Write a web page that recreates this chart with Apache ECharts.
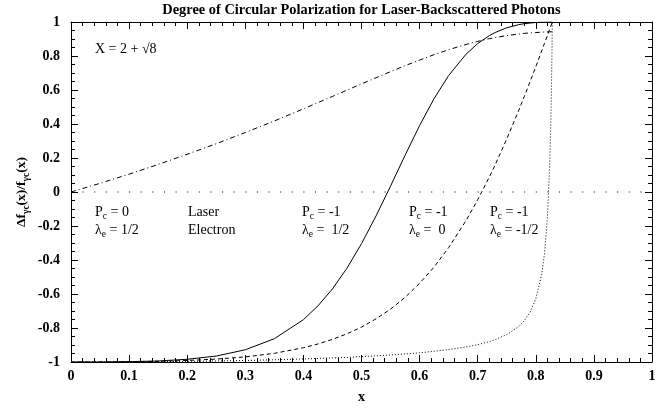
<!DOCTYPE html>
<html><head><meta charset="utf-8">
<script src="https://cdn.jsdelivr.net/npm/echarts@6/dist/echarts.min.js"></script>
<style>html,body{margin:0;padding:0;background:#fff}#c{width:672px;height:409px}</style>
</head><body><div id="c"></div>
<script>
// x positions (photon energy fraction x = omega/E0)
const xs = [0, 0.05, 0.1, 0.15, 0.2, 0.25, 0.3, 0.35, 0.4, 0.425, 0.45, 0.475, 0.5, 0.525, 0.55, 0.575, 0.6, 0.625, 0.65, 0.68, 0.7, 0.72, 0.73, 0.75, 0.77, 0.78, 0.79, 0.8, 0.81, 0.815, 0.82, 0.824, 0.826, 0.827, 0.828, 0.8284];
// Pc = 0, lambda_e = 1/2  (dash-dot)
const pc0_le_half = [0, 0.051, 0.105, 0.162, 0.222, 0.284, 0.350, 0.418, 0.489, 0.526, 0.562, 0.599, 0.636, 0.672, 0.708, 0.743, 0.776, 0.808, 0.837, 0.868, 0.886, 0.902, 0.908, 0.920, 0.929, 0.933, 0.936, 0.938, 0.940, 0.941, 0.942, 0.942, 0.943, 0.943, 0.943, 0.943];
// Pc = -1, lambda_e = 1/2  (solid)
const pcm1_le_half = [-1, -1.000, -0.998, -0.994, -0.984, -0.965, -0.928, -0.863, -0.751, -0.670, -0.570, -0.448, -0.304, -0.141, 0.035, 0.216, 0.391, 0.550, 0.685, 0.811, 0.873, 0.920, 0.938, 0.966, 0.984, 0.990, 0.994, 0.997, 0.999, 0.999, 1.0, 1.0, 1.0, 1.0, 1.0, 1.0];
// Pc = -1, lambda_e = 0  (dashed)
const pcm1_le_zero = [-1, -1.000, -0.999, -0.996, -0.991, -0.983, -0.970, -0.949, -0.916, -0.894, -0.867, -0.834, -0.795, -0.746, -0.689, -0.620, -0.537, -0.441, -0.327, -0.168, -0.046, 0.088, 0.159, 0.312, 0.475, 0.560, 0.648, 0.737, 0.829, 0.875, 0.921, 0.959, 0.977, 0.987, 0.996, 1.0];
// Pc = -1, lambda_e = -1/2  (dotted)
const pcm1_le_mhalf = [-1, -1.000, -0.999, -0.998, -0.996, -0.994, -0.991, -0.987, -0.982, -0.979, -0.976, -0.973, -0.968, -0.964, -0.959, -0.953, -0.946, -0.937, -0.927, -0.911, -0.898, -0.880, -0.869, -0.839, -0.793, -0.758, -0.707, -0.629, -0.487, -0.362, -0.150, 0.164, 0.433, 0.622, 0.869, 1.0];
// zero reference line
const zeroX = [0, 1];
const zeroY = [0, 0];

const FONT = '"Liberation Serif", "Times New Roman", serif';
const pairs = (x, y) => x.map((v, i) => [v, y[i]]);

const subRich = {
  s: { fontFamily: FONT, fontSize: 9.5, padding: [9, 0, 0, 0], fill: '#000' },
  sb: { fontFamily: FONT, fontSize: 9.5, fontWeight: 'bold', padding: [9, 0, 0, 0], fill: '#000' }
};

function axisBase(extra) {
  return Object.assign({
    type: 'value',
    axisLine: { show: true, onZero: false, lineStyle: { color: '#000', width: 1 } },
    axisTick: { show: true, inside: true, length: 7, lineStyle: { color: '#000', width: 1 } },
    minorTick: { show: true, length: 4, lineStyle: { color: '#000', width: 1 } },
    splitLine: { show: false },
    minorSplitLine: { show: false }
  }, extra);
}
const labelStyle = { show: true, color: '#000', fontFamily: FONT, fontWeight: 'bold', fontSize: 14 };

function line(data, type, z) {
  return {
    type: 'line', data: data, showSymbol: false, z: z || 2,
    lineStyle: { color: '#000', width: 1, type: type }
  };
}
const option = {
  animation: false,
  grid: { left: 71, right: 20, top: 22, bottom: 46, containLabel: false },
  xAxis: [
    axisBase({ min: 0, max: 1, interval: 0.1, position: 'bottom',
      minorTick: { show: true, splitNumber: 5, length: 4, lineStyle: { color: '#000', width: 1 } },
      axisLabel: Object.assign({ margin: 7 }, labelStyle),
      name: 'x', nameLocation: 'middle', nameGap: 28,
      nameTextStyle: { color: '#000', fontFamily: FONT, fontWeight: 'bold', fontSize: 14 } }),
    axisBase({ min: 0, max: 1, interval: 0.1, position: 'top',
      minorTick: { show: true, splitNumber: 5, length: 4, lineStyle: { color: '#000', width: 1 } },
      axisLabel: { show: false } })
  ],
  yAxis: [
    axisBase({ min: -1, max: 1, interval: 0.2, position: 'left',
      minorTick: { show: true, splitNumber: 4, length: 4, lineStyle: { color: '#000', width: 1 } },
      axisLabel: Object.assign({ margin: 11 }, labelStyle) }),
    axisBase({ min: -1, max: 1, interval: 0.2, position: 'right',
      minorTick: { show: true, splitNumber: 4, length: 4, lineStyle: { color: '#000', width: 1 } },
      axisLabel: { show: false } })
  ],
  series: [
    line(pairs(zeroX, zeroY), [1, 10.62], 1),
    line(pairs(xs, pc0_le_half), [5, 3, 1, 3]),
    line(pairs(xs, pcm1_le_half), 'solid'),
    line(pairs(xs, pcm1_le_zero), [4, 3]),
    line(pairs(xs, pcm1_le_mhalf), [1, 2])
  ],
  graphic: [
    { type: 'text', x: 361.5, y: 10, style: { text: 'Degree of Circular Polarization for Laser-Backscattered Photons',
      fill: '#000', font: 'bold 14.4px ' + FONT, textAlign: 'center', textVerticalAlign: 'middle' } },
    { type: 'text', x: 22, y: 192, rotation: Math.PI / 2, style: { text: 'Δf{sb|γc}(x)/f{sb|γc}(x)',
      fill: '#000', font: 'bold 13.5px ' + FONT, textAlign: 'center', textVerticalAlign: 'middle', rich: subRich } },
    { type: 'text', x: 95, y: 49, style: { text: 'X = 2 + √8', fill: '#000', font: '14px ' + FONT, textVerticalAlign: 'middle' } },
    { type: 'text', x: 95, y: 203, style: { text: 'P{s|c} = 0\nλ{s|e} = 1/2', fill: '#000', font: '14px ' + FONT, lineHeight: 18, rich: subRich } },
    { type: 'text', x: 188, y: 203, style: { text: 'Laser\nElectron', fill: '#000', font: '14px ' + FONT, lineHeight: 18 } },
    { type: 'text', x: 302, y: 203, style: { text: 'P{s|c} = -1\nλ{s|e} =  1/2', fill: '#000', font: '14px ' + FONT, lineHeight: 18, rich: subRich } },
    { type: 'text', x: 409, y: 203, style: { text: 'P{s|c} = -1\nλ{s|e} =  0', fill: '#000', font: '14px ' + FONT, lineHeight: 18, rich: subRich } },
    { type: 'text', x: 490, y: 203, style: { text: 'P{s|c} = -1\nλ{s|e} = -1/2', fill: '#000', font: '14px ' + FONT, lineHeight: 18, rich: subRich } }
  ]
};
echarts.init(document.getElementById('c')).setOption(option);
</script>
</body></html>
